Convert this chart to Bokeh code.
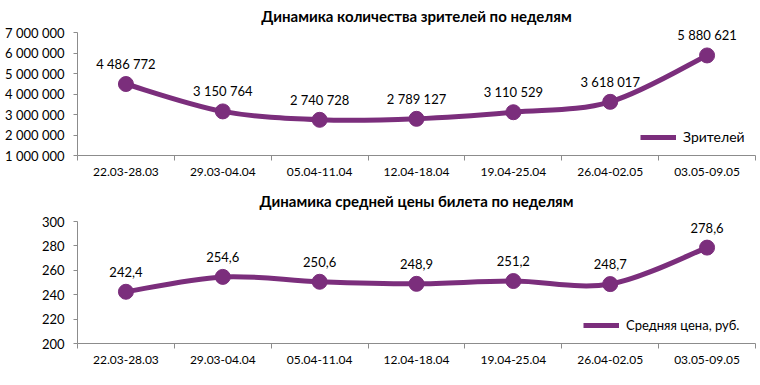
from bokeh.plotting import figure
from bokeh.layouts import column
from bokeh.models import (Range1d, FixedTicker, ColumnDataSource, Legend, LegendItem,
                          LabelSet)
from bokeh.embed import file_html
from bokeh.resources import INLINE
from bokeh.core.properties import value

weeks = ["22.03-28.03", "29.03-04.04", "05.04-11.04", "12.04-18.04",
         "19.04-25.04", "26.04-02.05", "03.05-09.05"]
viewers = [4486772, 3150764, 2740728, 2789127, 3110529, 3618017, 5880621]
prices = [242.4, 254.6, 250.6, 248.9, 251.2, 248.7, 278.6]
viewer_ticks = [1000000, 2000000, 3000000, 4000000, 5000000, 6000000, 7000000]
price_ticks = [200, 220, 240, 260, 280, 300]

title_viewers = "Динамика количества зрителей по неделям"
title_prices = "Динамика средней цены билета по неделям"
legend_viewers = "Зрителей"
legend_prices = "Средняя цена, руб."

COLOR = "#7b2e7c"
AXIS = "#8c8c8c"
FONT = "Lato"


def fmt_int(v):
    return f"{v:,}".replace(",", " ")


def fmt_dec(v):
    return f"{v:.1f}".replace(".", ",")


def bezier_source(ys):
    n = len(ys)
    pts = [(i, ys[i]) for i in range(n)]
    d = dict(x0=[], y0=[], x1=[], y1=[], cx0=[], cy0=[], cx1=[], cy1=[])
    for i in range(n - 1):
        pm = pts[max(i - 1, 0)]
        p0 = pts[i]
        p1 = pts[i + 1]
        p2 = pts[min(i + 2, n - 1)]
        d["x0"].append(p0[0]); d["y0"].append(p0[1])
        d["x1"].append(p1[0]); d["y1"].append(p1[1])
        d["cx0"].append(p0[0] + (p1[0] - pm[0]) / 6.0)
        d["cy0"].append(p0[1] + (p1[1] - pm[1]) / 6.0)
        d["cx1"].append(p1[0] - (p2[0] - p0[0]) / 6.0)
        d["cy1"].append(p1[1] - (p2[1] - p0[1]) / 6.0)
    return ColumnDataSource(d)


def make(title, ys, yticks, ytick_labels, vlabels, legend_label, height, btop, bbottom,
         axis_px, headroom_px, title_standoff, legend_loc, legend_font):
    n = len(weeks)
    xs = list(range(n))
    span = yticks[-1] - yticks[0]
    y_end = yticks[-1] + span * headroom_px / axis_px
    p = figure(width=756, height=height, output_backend="svg", toolbar_location=None,
               x_range=Range1d(-0.5, n - 0.5), y_range=Range1d(yticks[0], y_end),
               min_border_left=77, min_border_right=1, min_border_top=btop,
               min_border_bottom=bbottom)
    p.outline_line_color = None
    p.grid.visible = False
    p.background_fill_color = "white"
    p.border_fill_color = "white"

    p.title.text = title
    p.title.align = "center"
    p.title.offset = -16
    p.title.text_font = FONT
    p.title.text_font_style = "bold"
    p.title.text_font_size = "15px"
    p.title.text_color = "black"
    p.title.standoff = title_standoff

    xa = p.xaxis[0]
    xa.ticker = FixedTicker(ticks=xs, minor_ticks=[i - 0.5 for i in range(n + 1)])
    xa.major_label_overrides = {i: w for i, w in enumerate(weeks)}
    xa.major_tick_out = 0
    xa.major_tick_in = 0
    xa.minor_tick_out = 5
    xa.minor_tick_in = 0
    xa.minor_tick_line_color = AXIS
    xa.axis_line_color = AXIS
    xa.major_label_text_font = FONT
    xa.major_label_text_font_size = "12px"
    xa.major_label_text_color = "black"
    xa.major_label_standoff = 7

    ya = p.yaxis[0]
    ya.ticker = FixedTicker(ticks=yticks, minor_ticks=[])
    ya.bounds = (yticks[0], yticks[-1])
    ya.major_label_overrides = {t: l for t, l in zip(yticks, ytick_labels)}
    ya.major_tick_out = 4
    ya.major_tick_in = 0
    ya.major_tick_line_color = AXIS
    ya.axis_line_color = AXIS
    ya.major_label_text_font = FONT
    ya.major_label_text_font_size = "13px"
    ya.major_label_text_color = "black"
    ya.major_label_standoff = 9

    src = bezier_source(ys)
    r = p.bezier(x0="x0", y0="y0", x1="x1", y1="y1", cx0="cx0", cy0="cy0",
                 cx1="cx1", cy1="cy1", source=src, line_color=COLOR, line_width=5)
    p.scatter(xs, ys, size=15, color=COLOR)

    lsrc = ColumnDataSource(dict(x=xs, y=ys, t=vlabels))
    labels = LabelSet(x="x", y="y", text="t", source=lsrc, text_align="center",
                      text_baseline="middle", y_offset=20, text_font=value(FONT),
                      text_font_size="13px", text_color="black")
    p.add_layout(labels)

    leg = Legend(items=[LegendItem(label=legend_label, renderers=[r])], location=legend_loc,
                 border_line_color=None, background_fill_alpha=0, padding=0, margin=0,
                 glyph_width=36, glyph_height=14, label_standoff=7,
                 label_text_font=FONT, label_text_font_size=legend_font,
                 label_text_color="black")
    p.add_layout(leg)
    return p


p1 = make(title_viewers, viewers, viewer_ticks, [fmt_int(t) for t in viewer_ticks],
          [fmt_int(v) for v in viewers], legend_viewers, 184, 25, 29, 123, 7, 2,
          (563, 10), "14px")
p2 = make(title_prices, prices, price_ticks, [str(t) for t in price_ticks],
          [fmt_dec(v) for v in prices], legend_prices, 193, 30, 34, 122, 7, 10,
          (506, 10), "13px")

layout = column(p1, p2, spacing=0)
open("out.html", "w").write(file_html(layout, INLINE))
